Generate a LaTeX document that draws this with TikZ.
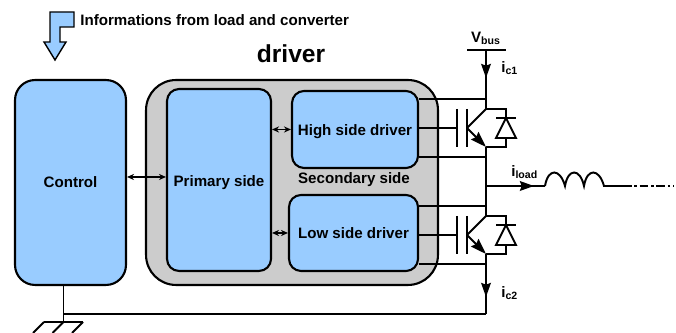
\documentclass[tikz,border=0pt]{standalone}
\usepackage{fontspec}
\setmainfont{Liberation Sans}
\usetikzlibrary{arrows.meta,calc}
\tikzset{
  blockbox/.style={draw,line width=1.2pt,fill=blockblue,rounded corners=#1,inner sep=0pt,font=\fontsize{8.6pt}{10pt}\selectfont\bfseries},
  wire/.style={line width=1.1pt,line join=miter},
  link/.style={line width=0.9pt,{Stealth[length=4pt,width=3.5pt]}-{Stealth[length=4pt,width=3.5pt]}},
  flow/.style={line width=1.1pt,-{Stealth[length=8pt,width=5.5pt,inset=1pt]}},
  lab/.style={inner sep=0pt,font=\fontsize{8.6pt}{10pt}\selectfont\bfseries}
}
\definecolor{blockblue}{HTML}{99CCFF}
\definecolor{drivergray}{HTML}{CCCCCC}
\begin{document}
\begin{tikzpicture}[x=0.02cm,y=-0.02cm,line join=round]
\useasboundingbox (0,0) rectangle (676,333);
% info arrow
\draw[line width=0.8pt,fill=blockblue,line join=miter] (50,12)--(74,12)--(74,27)--(60,27)--(60,42)--(66,42)--(55,60)--(44,42)--(50,42)--cycle;
\node[lab,anchor=west] (info) at (80,20) {Informations from load and converter};
\node[lab,font=\fontsize{14pt}{16pt}\selectfont\bfseries] (title) at (291,54) {driver};
% blocks
\node[blockbox=20*0.569pt,minimum width=111*0.569pt,minimum height=205*0.569pt] (control) at (70.5,182.5) {Control};
\node[blockbox=30*0.569pt,fill=drivergray,minimum width=292*0.569pt,minimum height=205*0.569pt] (drv) at (292,182.5) {};
\node[blockbox=12*0.569pt,text height=7.8pt,text depth=0pt,minimum width=104*0.569pt,minimum height=182*0.569pt] (primary) at (219,180) {Primary side};
\node[blockbox=12*0.569pt,text height=6.8pt,text depth=0pt,minimum width=126*0.569pt,minimum height=77*0.569pt] (high) at (355,129.5) {High side driver};
\node[blockbox=12*0.569pt,minimum width=129*0.569pt,minimum height=76*0.569pt] (low) at (353.5,233) {Low side driver};
\node[lab] (sec) at (354,179.5) {Secondary side};
\draw[link] (control.east|-0,177) -- (primary.west|-0,177);
\draw[link] (primary.east|-high) -- (high.west);
\draw[link] (primary.east|-low) -- (low.west);
% supply
\coordinate (busL) at (467,50);
\coordinate (busR) at (506,50);
\coordinate (bus) at (486,50);
\coordinate (gnd) at (486,314);
\coordinate (out) at (486,186);
\draw[wire] (busL) -- (busR);
\node[lab] (vbus) at (486,38) {V\textsubscript{bus}};
\node[lab,anchor=west] (ic1) at (501,68) {i\textsubscript{c1}};
\node[lab,anchor=west] (ic2) at (501,293) {i\textsubscript{c2}};
\node[lab,anchor=west] (iload) at (511,172) {i\textsubscript{load}};
% both switches
\foreach \nm/\dy/\bx in {hi/128/high,lo/235/low} {
  \coordinate (\nm c) at (486,\dy-19);
  \coordinate (\nm e) at (486,\dy+19);
  \coordinate (\nm b) at (467,\dy);
  \coordinate (\nm g) at (457,\dy);
  \coordinate (\nm d) at (506,\dy);
  \draw[wire] (\nm g)++(0,-19) -- ++(0,38);
  \draw[wire] (\nm b)++(0,-19) -- ++(0,38);
  \draw[wire] (\bx.east|-\nm g) -- (\nm g);
  \draw[wire] (\nm b) -- (\nm c) -| ($(\nm d)+(0,-10)$);
  \draw[wire,-{Stealth[length=9pt,width=6pt,inset=1pt]}] (\nm b) -- (\nm e);
  \draw[wire] (\nm e) -| ($(\nm d)+(0,10)$);
  \draw[wire] ($(\nm d)+(-10,-10)$) -- ($(\nm d)+(10,-10)$);
  \draw[wire] ($(\nm d)+(0,-10)$) -- ($(\nm d)+(10,10)$) -- ($(\nm d)+(-10,10)$) -- cycle;
  \draw[wire] ($(\bx.east|-\nm c)+(0,-10)$) -- ($(\nm c)+(0,-10)$);
  \draw[wire] ($(\bx.east|-\nm e)+(0,10)$) -- ($(\nm e)+(0,10)$);
}
\draw[wire] (bus) -- (hic);
\draw[flow] (bus) -- (486,78);
\draw[wire] (hie) -- (loc);
\draw[wire] (loe) -- (gnd);
\draw[flow] (loe) -- (486,297);
% load
\coordinate (coilA) at (545,186);
\coordinate (coilB) at (604,186);
\coordinate (endA) at (623,186);
\coordinate (endB) at (674,186);
\draw[wire] (out) -- (coilA);
\draw[flow] (out) -- (534,186);
\draw[wire] (coilA) .. controls (548,168) and (560,168) .. (565,186)
  .. controls (568,168) and (580,168) .. (584,186)
  .. controls (587,168) and (599,168) .. (604,186) -- (endA);
\draw[wire,dash pattern=on 5pt off 1.5pt on 1.5pt off 1.5pt] (endA) -- (endB);
% ground
\coordinate (ctrlB) at (63.5,285);
\coordinate (earth) at (63.5,322);
\draw[wire] (gnd) -- (gnd-|earth);
\draw[wire] (ctrlB) -- (earth);
\draw[wire] (44,322) -- (83,322);
\foreach \hx in {44,63.5,83} \draw[wire] (\hx,322) -- ++(-11,11);
\end{tikzpicture}
\end{document}
